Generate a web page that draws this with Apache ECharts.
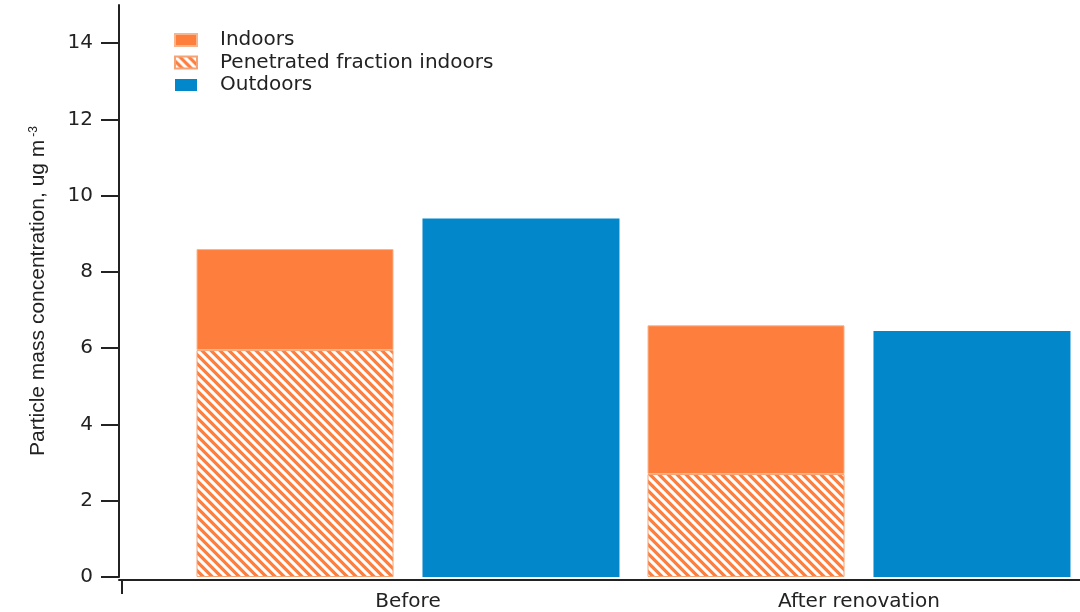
<!DOCTYPE html>
<html>
<head>
<meta charset="utf-8">
<script src="https://cdn.jsdelivr.net/npm/echarts@6/dist/echarts.min.js"></script>
<style>
  html, body { margin: 0; padding: 0; background: #fff; }
  #chart { width: 1080px; height: 612px; }
</style>
</head>
<body>
<div id="chart"></div>
<script>
// Particle mass concentration before and after renovation
const categories = ['Before', 'After renovation'];
const indoors = [8.6, 6.6];          // total indoor concentration
const penetrated = [5.95, 2.7];      // part of indoor that penetrated from outdoors
const outdoors = [9.4, 6.45];
const yTicks = [0, 2, 4, 6, 8, 10, 12, 14];

const ORANGE = '#fd7e3d';
const BLUE = '#0287ca';
const INK = '#222';

// diagonal white stripes over orange for the penetrated fraction
function hatchTile() {
  const w = 9, h = 9;
  const c = document.createElement('canvas');
  c.width = w; c.height = h;
  const g = c.getContext('2d');
  g.fillStyle = ORANGE;
  g.fillRect(0, 0, w, h);
  g.strokeStyle = '#ffffff';
  g.lineWidth = 3.1;
  for (let k = -2; k <= 2; k++) {
    g.beginPath();
    g.moveTo(w * k - w, -h);
    g.lineTo(w * k + 2 * w, 2 * h);
    g.stroke();
  }
  return c;
}

// the indoor bar is split into the penetrated part and the remainder on top of it
const indoorRest = indoors.map((v, i) => +(v - penetrated[i]).toFixed(3));

const chart = echarts.init(document.getElementById('chart'));
chart.setOption({
  animation: false,
  backgroundColor: '#fff',
  grid: [
    // bars
    { left: 182.5, right: -4.5, top: 5, bottom: 35, containLabel: false, outerBoundsMode: 'none' },
    // full-width baseline
    { left: 119, right: 0, top: 5, bottom: 35, containLabel: false, outerBoundsMode: 'none' }
  ],
  legend: {
    orient: 'vertical',
    left: 174,
    top: 30,
    padding: 0,
    icon: 'rect',
    itemWidth: 22,
    itemHeight: 12,
    itemGap: 2.5,
    data: ['Indoors', 'Penetrated fraction indoors', 'Outdoors'],
    textStyle: { fontFamily: 'DejaVu Sans', fontSize: 20, color: INK, padding: [0, 0, 0, 18], lineHeight: 20 }
  },
  xAxis: [
    {
      type: 'category',
      gridIndex: 0,
      data: categories,
      axisLine: { show: false },
      axisTick: { show: false },
      axisLabel: { margin: 15, fontFamily: 'DejaVu Sans', fontSize: 20, color: INK },
      splitLine: { show: false }
    },
    {
      type: 'value',
      gridIndex: 1,
      min: 0,
      max: 1,
      offset: 3,
      axisLine: { show: true, onZero: false, lineStyle: { color: INK, width: 2 } },
      axisTick: { show: true, customValues: [0.003], length: 14, lineStyle: { color: INK, width: 2 } },
      axisLabel: { show: false },
      splitLine: { show: false }
    }
  ],
  yAxis: [
    {
      type: 'value',
      gridIndex: 0,
      min: 0,
      max: 15,
      offset: 63.5,
      name: 'Particle mass concentration, ug m{sup|-3}',
      nameLocation: 'middle',
      nameRotate: 90,
      nameGap: 70,
      nameTextStyle: {
        fontFamily: 'Liberation Sans',
        fontSize: 21,
        color: INK,
        rich: {
          sup: { fontFamily: 'Liberation Sans', fontSize: 12, color: INK, verticalAlign: 'top', padding: [0, 0, 0, 3] }
        }
      },
      axisLine: { show: true, onZero: false, lineStyle: { color: INK, width: 2 } },
      axisTick: { show: true, customValues: yTicks, length: 18, lineStyle: { color: INK, width: 2 } },
      axisLabel: { customValues: yTicks, margin: 26, fontFamily: 'DejaVu Sans', fontSize: 20, color: INK },
      splitLine: { show: false }
    },
    {
      type: 'value',
      gridIndex: 1,
      min: 0,
      max: 15,
      show: false
    }
  ],
  series: [
    {
      name: 'Penetrated fraction indoors',
      type: 'bar',
      stack: 'indoor',
      barWidth: 197,
      barGap: '14.7%',
      data: penetrated,
      itemStyle: { color: { image: hatchTile(), repeat: 'repeat' }, borderColor: '#f5a374', borderWidth: 1 }
    },
    {
      name: 'Indoors',
      type: 'bar',
      stack: 'indoor',
      barWidth: 197,
      data: indoorRest,
      itemStyle: { color: ORANGE, borderColor: '#f9b48c', borderWidth: 1 }
    },
    {
      name: 'Outdoors',
      type: 'bar',
      barWidth: 197,
      data: outdoors,
      itemStyle: { color: BLUE }
    }
  ]
});
</script>
</body>
</html>
